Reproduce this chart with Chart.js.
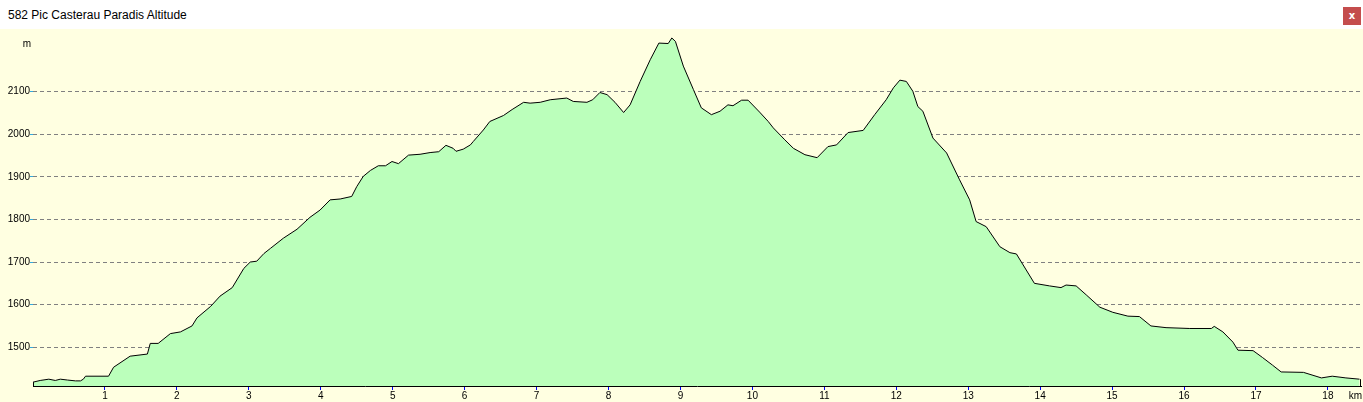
<!DOCTYPE html>
<html>
<head>
<meta charset="utf-8">
<script src="https://cdn.jsdelivr.net/npm/chart.js@4/dist/chart.umd.min.js"></script>
<style>
  html, body { margin: 0; padding: 0; background: #fff; }
  #titlebar { position: absolute; left: 0; top: 0; width: 1363px; height: 29px; background: #fff;
    font: 12px "Liberation Sans", Arial, sans-serif; color: #000; }
  #titlebar span { position: absolute; left: 8px; top: 8px; }
  #close { position: absolute; left: 1343px; top: 7px; width: 18px; height: 18px; background: #c44d4d;
    color: #fff; font: bold 10px "DejaVu Sans", sans-serif; text-align: center; line-height: 17px; }
  #wrap { position: absolute; left: 0; top: 29px; width: 1363px; height: 373px; background: #ffffe1; }
</style>
</head>
<body>
<div id="titlebar"><span>582 Pic Casterau Paradis Altitude</span><div id="close">x</div></div>
<div id="wrap"><canvas id="profil" width="1363" height="373"></canvas></div>
<script>
// distance (km) and altitude (m)
const distKm = [0, 0.10, 0.22, 0.31, 0.38, 0.48, 0.59, 0.66, 0.70, 0.73, 1.05, 1.12, 1.35, 1.59, 1.63, 1.74, 1.91,
  2.05, 2.21, 2.28, 2.47, 2.60, 2.77, 2.93, 3.02, 3.11, 3.21, 3.30, 3.48, 3.67, 3.85, 3.99, 4.13, 4.27, 4.43,
  4.50, 4.59, 4.69, 4.80, 4.90, 4.99, 5.08, 5.22, 5.38, 5.52, 5.64, 5.74, 5.84, 5.88, 5.98, 6.08, 6.12, 6.26,
  6.35, 6.54, 6.66, 6.82, 6.91, 7.05, 7.19, 7.42, 7.51, 7.70, 7.78, 7.88, 7.98, 8.09, 8.21, 8.30, 8.44, 8.58,
  8.70, 8.83, 8.88, 8.93, 9.04, 9.18, 9.29, 9.43, 9.55, 9.66, 9.73, 9.85, 9.94, 10.10, 10.22, 10.29, 10.45,
  10.57, 10.73, 10.90, 11.05, 11.17, 11.33, 11.54, 11.70, 11.86, 11.96, 12.05, 12.14, 12.23, 12.30, 12.37,
  12.51, 12.70, 12.88, 13.02, 13.11, 13.25, 13.44, 13.58, 13.67, 13.92, 14.13, 14.29, 14.36, 14.50, 14.64,
  14.83, 15.01, 15.22, 15.38, 15.54, 15.75, 16.08, 16.38, 16.42, 16.54, 16.68, 16.75, 16.96, 17.09, 17.23,
  17.35, 17.66, 17.91, 18.06, 18.25, 18.44];
const altitude = [1418, 1422, 1425, 1422, 1425, 1423, 1421, 1421, 1425, 1432, 1432, 1453, 1479, 1484, 1509, 1509, 1532,
  1536, 1550, 1569, 1596, 1620, 1640, 1685, 1700, 1702, 1720, 1732, 1756, 1777, 1805, 1822, 1846, 1848, 1854,
  1877, 1901, 1915, 1926, 1926, 1936, 1931, 1951, 1953, 1957, 1959, 1974, 1967, 1960, 1965, 1975, 1983, 2010,
  2030, 2044, 2058, 2075, 2073, 2075, 2081, 2085, 2077, 2075, 2081, 2098, 2093, 2075, 2051, 2069, 2124, 2175,
  2214, 2213, 2226, 2218, 2160, 2105, 2062, 2046, 2054, 2069, 2067, 2080, 2080, 2052, 2030, 2015, 1987,
  1967, 1952, 1945, 1971, 1975, 2004, 2009, 2046, 2081, 2109, 2127, 2124, 2101, 2065, 2054,
  1991, 1956, 1893, 1846, 1795, 1783, 1736, 1722, 1719, 1650, 1644, 1640, 1646, 1644, 1623,
  1594, 1582, 1573, 1572, 1550, 1546, 1544, 1544, 1549, 1536, 1512, 1493, 1492, 1476, 1458,
  1442, 1441, 1428, 1432, 1428, 1425];
const kmTicks = [1, 2, 3, 4, 5, 6, 7, 8, 9, 10, 11, 12, 13, 14, 15, 16, 17, 18];
const altTicks = [1500, 1600, 1700, 1800, 1900, 2000, 2100];

const labelFont = { family: 'Liberation Sans', size: 10 };

// black outline down to the axis at both ends, and the unit labels
const extras = {
  id: 'extras',
  afterDatasetsDraw(chart) {
    const c = chart.ctx;
    const pts = chart.getDatasetMeta(0).data;
    const bottom = chart.chartArea.bottom;
    c.save();
    c.strokeStyle = '#000';
    c.lineWidth = 1;
    [pts[0], pts[pts.length - 1]].forEach(p => {
      const x = Math.round(p.x) + 0.5;
      c.beginPath();
      c.moveTo(x, p.y);
      c.lineTo(x, bottom);
      c.stroke();
    });
    c.fillStyle = '#000';
    c.font = '10px "Liberation Sans"';
    c.textAlign = 'right';
    c.textBaseline = 'top';
    c.fillText('m', chart.chartArea.left - 2, 10);
    c.fillText('km', chart.width - 1, bottom + 5);
    c.restore();
  }
};

new Chart(document.getElementById('profil'), {
  type: 'line',
  data: {
    datasets: [{
      data: distKm.map((d, i) => ({ x: d, y: altitude[i] })),
      borderColor: '#000',
      borderWidth: 1,
      backgroundColor: '#bbffbb',
      fill: 'start',
      pointRadius: 0,
      tension: 0
    }]
  },
  options: {
    responsive: false,
    animation: false,
    layout: { padding: { top: 0, right: 2, left: 0, bottom: 0 } },
    plugins: { legend: { display: false }, tooltip: { enabled: false } },
    scales: {
      x: {
        type: 'linear',
        min: 0,
        max: 18.46,
        afterFit: s => { s.height = 16; },
        afterBuildTicks: s => { s.ticks = kmTicks.map(v => ({ value: v })); },
        grid: { drawOnChartArea: false, drawTicks: true, tickLength: 4, tickColor: '#0000ff' },
        border: { display: true, color: '#000', width: 1 },
        ticks: { color: '#000', font: labelFont, padding: 0, maxRotation: 0, autoSkip: false,
          callback: v => String(v) }
      },
      y: {
        min: 1409,
        max: 2233,
        afterFit: s => { s.width = 33; },
        afterBuildTicks: s => { s.ticks = altTicks.map(v => ({ value: v })); },
        grid: { color: '#808080', lineWidth: 1, drawTicks: true, tickLength: 3, tickColor: '#33aadd' },
        border: { display: false, dash: [4, 3] },
        ticks: { color: '#000', font: labelFont, padding: 0, callback: v => String(v) }
      }
    }
  },
  plugins: [extras]
});
</script>
</body>
</html>
